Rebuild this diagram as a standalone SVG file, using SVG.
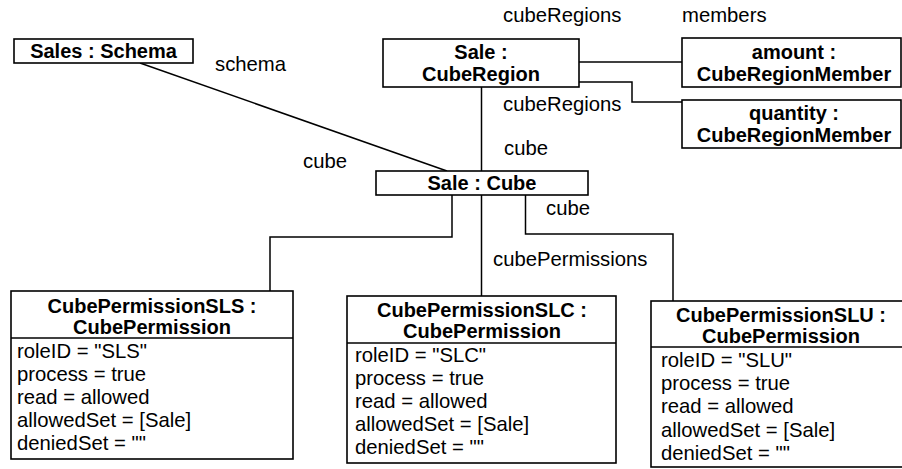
<svg xmlns="http://www.w3.org/2000/svg" width="902" height="469" viewBox="0 0 902 469">
<style>
.box{fill:#fff;stroke:#000;stroke-width:1.6}
.ln{fill:none;stroke:#000;stroke-width:1.5}
text{font-family:"Liberation Sans",Arial,Helvetica,sans-serif;font-size:20.3px;fill:#000}
.b{font-weight:bold;text-anchor:middle;font-size:20px}
.lbl{font-size:20.3px}
</style>
<rect width="902" height="469" fill="#fff"/>
<g id="connectors">
<line class="ln" x1="140" y1="63" x2="447" y2="171"/>
<line class="ln" x1="481.5" y1="87" x2="481.5" y2="171"/>
<line class="ln" x1="579" y1="62" x2="682" y2="62"/>
<polyline class="ln" points="579,82 632,82 632,102 682,102"/>
<polyline class="ln" points="452,195 452,237 270,237 270,291"/>
<line class="ln" x1="481.5" y1="195" x2="481.5" y2="296"/>
<polyline class="ln" points="525.5,195 525.5,234 673,234 673,301"/>
<text class="lbl" x="215" y="71">schema</text>
<text class="lbl" x="303" y="168">cube</text>
<text class="lbl" x="503" y="22">cubeRegions</text>
<text class="lbl" x="682" y="22">members</text>
<text class="lbl" x="503" y="111">cubeRegions</text>
<text class="lbl" x="504" y="155">cube</text>
<text class="lbl" x="546" y="215">cube</text>
<text class="lbl" x="493" y="266">cubePermissions</text>
</g>
<g id="salesSchema">
<rect class="box" x="14" y="39" width="179" height="24"/>
<text class="b" x="103.5" y="58">Sales : Schema</text>
</g>
<g id="saleCubeRegion">
<rect class="box" x="383" y="39" width="196" height="48"/>
<text class="b" x="481" y="59">Sale :</text>
<text class="b" x="481" y="81">CubeRegion</text>
</g>
<g id="amount">
<rect class="box" x="682" y="38" width="219" height="49"/>
<text class="b" x="794" y="59">amount :</text>
<text class="b" x="794" y="81">CubeRegionMember</text>
</g>
<g id="quantity">
<rect class="box" x="682" y="100" width="219" height="48"/>
<text class="b" x="794" y="120">quantity :</text>
<text class="b" x="794" y="142">CubeRegionMember</text>
</g>
<g id="saleCube">
<rect class="box" x="376" y="171" width="212" height="24"/>
<text class="b" x="482" y="190">Sale : Cube</text>
</g>
<g id="permSLS">
<rect class="box" x="11" y="291" width="282" height="168"/>
<line class="ln" x1="11" y1="338" x2="293" y2="338"/>
<text class="b" x="152" y="313">CubePermissionSLS :</text>
<text class="b" x="152" y="334">CubePermission</text>
<text x="17" y="358">roleID = "SLS"</text>
<text x="17" y="381">process = true</text>
<text x="17" y="404">read = allowed</text>
<text x="17" y="427">allowedSet = [Sale]</text>
<text x="17" y="450">deniedSet = ""</text>
</g>
<g id="permSLC">
<rect class="box" x="347" y="296" width="269" height="167"/>
<line class="ln" x1="347" y1="343" x2="616" y2="343"/>
<text class="b" x="482" y="317">CubePermissionSLC :</text>
<text class="b" x="482" y="338">CubePermission</text>
<text x="355" y="362">roleID = "SLC"</text>
<text x="355" y="385">process = true</text>
<text x="355" y="408">read = allowed</text>
<text x="355" y="431">allowedSet = [Sale]</text>
<text x="355" y="454">deniedSet = ""</text>
</g>
<g id="permSLU">
<rect class="box" x="651" y="301" width="262" height="166"/>
<line class="ln" x1="651" y1="347" x2="913" y2="347"/>
<text class="b" x="781" y="322">CubePermissionSLU :</text>
<text class="b" x="781" y="343">CubePermission</text>
<text x="661" y="367">roleID = "SLU"</text>
<text x="661" y="390">process = true</text>
<text x="661" y="413">read = allowed</text>
<text x="661" y="437">allowedSet = [Sale]</text>
<text x="661" y="460">deniedSet = ""</text>
</g>
</svg>
